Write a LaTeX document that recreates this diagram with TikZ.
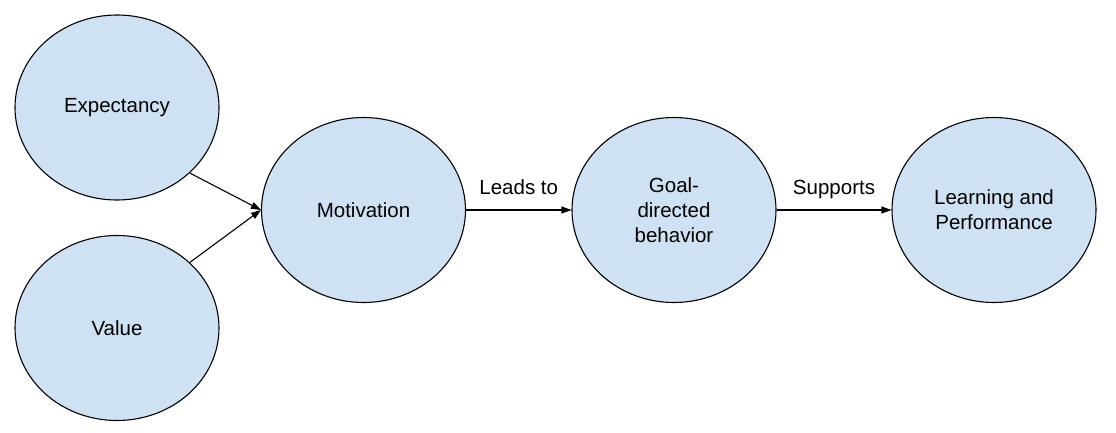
\documentclass[tikz,border=0pt]{standalone}
\usepackage{fontspec}
\setmainfont{Liberation Sans}
\usetikzlibrary{shapes.geometric,arrows.meta}
\definecolor{bubble}{HTML}{CFE2F3}
\begin{document}
\begin{tikzpicture}[x=1pt,y=-1pt,node distance=310pt,>={Triangle[length=10pt,width=7pt]}]
\tikzstyle{blob}=[draw,ellipse,fill=bubble,line width=1.1pt,minimum width=204pt,minimum height=185pt,inner sep=0pt,align=center,font=\fontsize{20.5}{25}\selectfont]
\tikzstyle{link}=[->,line width=1.1pt]
\useasboundingbox (0,0) rectangle (1116,433);
\node [blob] (motiv) at (363.5,210) {Motivation};
\node [blob,right of=motiv,node distance=310.5pt] (goal) {Goal-\\directed\\behavior};
\node [blob,right of=goal,node distance=320pt] (learn) {Learning and\\Performance};

\node [blob] (expect) at (117,107.5) {Expectancy};
\node [blob,below of=expect,node distance=220.5pt] (value) {Value};
\path[every node/.style={font=\fontsize{20.5}{25}\selectfont,anchor=base,yshift=16pt}]
(expect.-42) edge [link] (motiv.west)
(value.42) edge [link] (motiv.west)
(motiv) edge [link] node {Leads to} (goal)
(goal) edge [link] node {Supports} (learn);
\end{tikzpicture}
\end{document}
